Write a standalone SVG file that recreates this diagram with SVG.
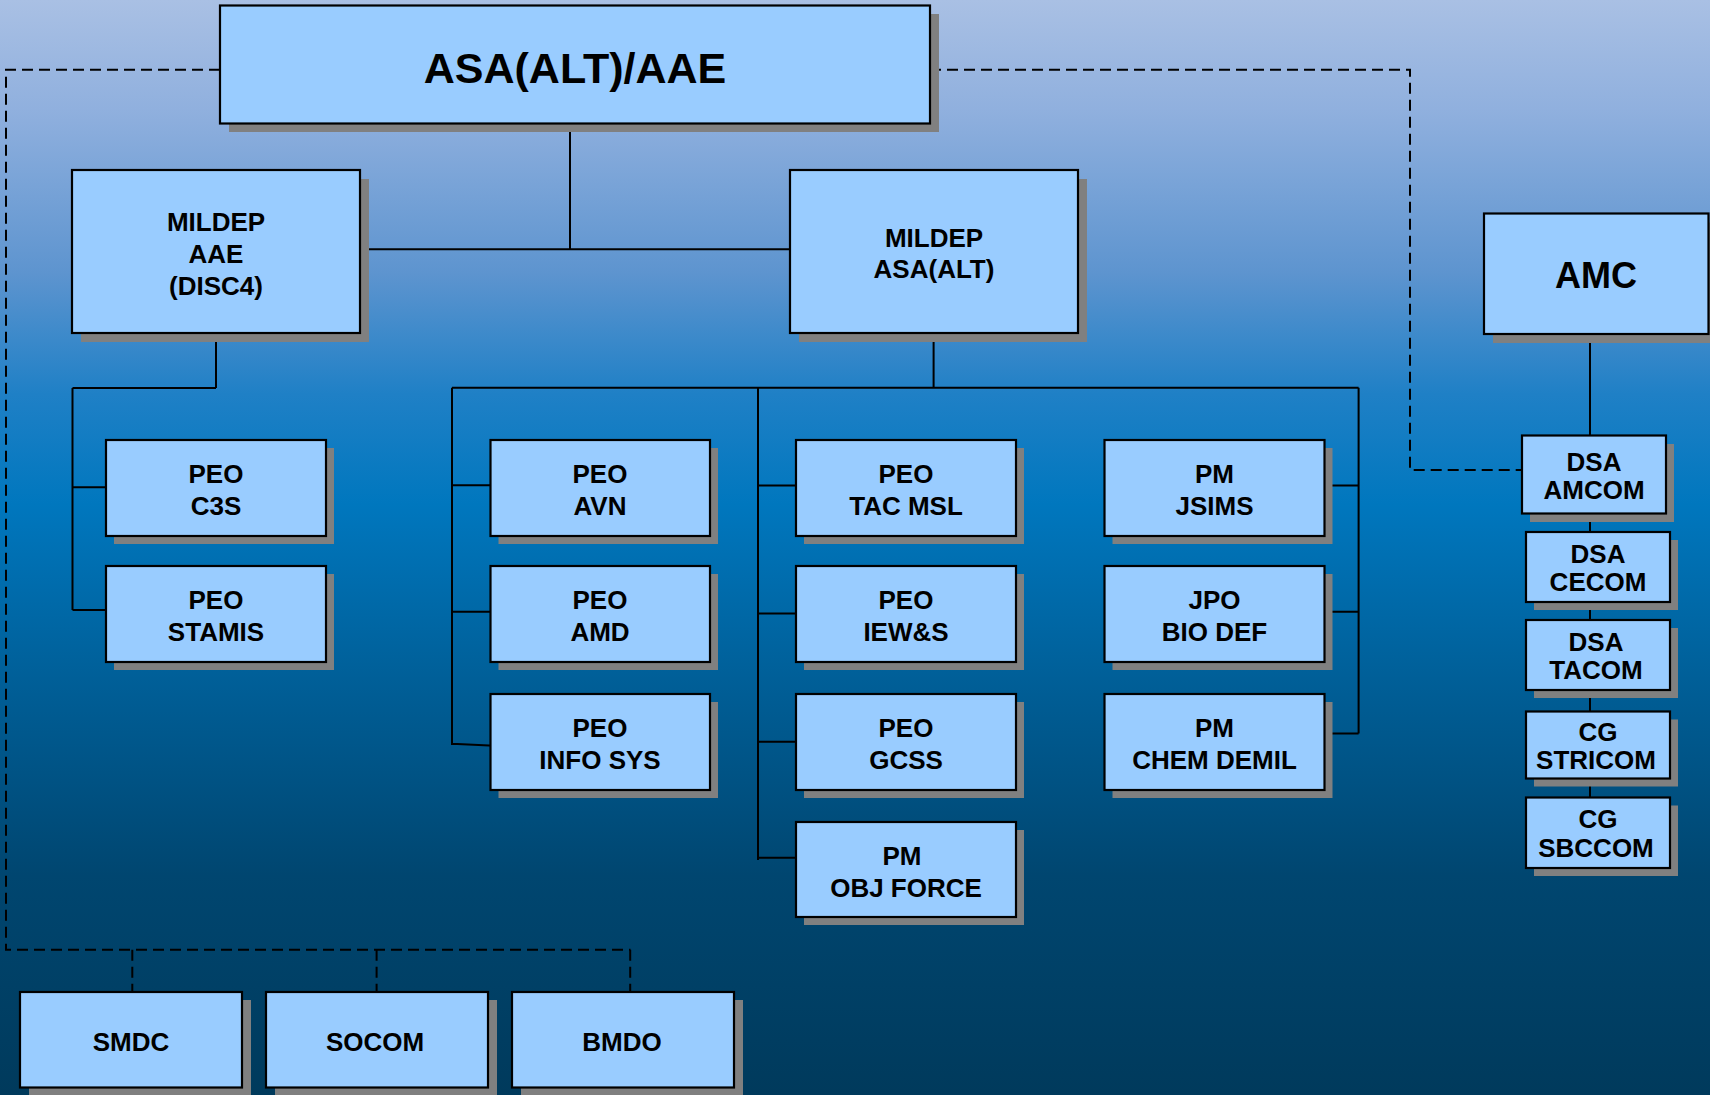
<svg xmlns="http://www.w3.org/2000/svg" width="1710" height="1095" viewBox="0 0 1710 1095">
<defs>
<linearGradient id="bg" x1="0" y1="0" x2="0" y2="1">
<stop offset="0" stop-color="#a9c0e4"/>
<stop offset="0.1" stop-color="#90b0de"/>
<stop offset="0.25" stop-color="#5d94cf"/>
<stop offset="0.36" stop-color="#1f80c6"/>
<stop offset="0.46" stop-color="#0077be"/>
<stop offset="0.62" stop-color="#005f98"/>
<stop offset="0.8" stop-color="#004670"/>
<stop offset="1" stop-color="#003a5c"/>
</linearGradient>
<style>
.sh{fill:#808080;stroke:none}
.bx{fill:#99ccff;stroke:#000;stroke-width:2.2}
.t{font-family:"Liberation Sans",Arial,Helvetica,sans-serif;font-weight:bold;font-size:26px;fill:#000;text-anchor:middle}
.sol{stroke:#000;stroke-width:2;fill:none}
.dash{stroke:#000;stroke-width:2;fill:none;stroke-dasharray:11 6}
</style>
</defs>
<rect x="0" y="0" width="1710" height="1095" fill="url(#bg)"/>
<g id="connectors">
<path class="dash" d="M220,69.7 H6 V949.7 H630.5"/>
<path class="dash" d="M132.3,949.7 V992 M376.6,949.7 V992 M630.2,949.7 V992"/>
<path class="dash" d="M930,69.7 H1410 V470 H1522"/>
<path class="sol" d="M570,124 V249.3 M360,249.3 H790"/>
<path class="sol" d="M216,333 V388 M72.5,388 H216 M72.5,388 V610 M72.5,487.3 H106 M72.5,610 H106"/>
<path class="sol" d="M933.6,333 V388 M452,387.7 H1358.6"/>
<path class="sol" d="M452,387.7 V745 M452,485.3 H490.5 M452,611.7 H490.5 M452,743.7 L494.4,745.7"/>
<path class="sol" d="M758,387.7 V860 M758,485.4 H796 M758,613.6 H796 M758,741.8 H796 M758,857.8 H796"/>
<path class="sol" d="M1358.6,387.7 V733.4 M1324.5,485.4 H1358.6 M1324.5,611.7 H1358.6 M1324.5,733.4 H1358.6"/>
<path class="sol" d="M1590,334 V797.5"/>
</g>
<g id="n-asa-aae"><rect class="sh" x="229" y="14" width="710" height="118"/><rect class="bx" x="220" y="5.5" width="710" height="118"/><text class="t" x="575" y="82.7" style="font-size:43px">ASA(ALT)/AAE</text></g>
<g id="n-mildep-aae"><rect class="sh" x="81" y="179" width="288" height="163"/><rect class="bx" x="72" y="170" width="288" height="163"/><text class="t" x="216" y="231">MILDEP</text><text class="t" x="216" y="262.7">AAE</text><text class="t" x="216" y="294.5">(DISC4)</text></g>
<g id="n-mildep-asa"><rect class="sh" x="799" y="179" width="288" height="163"/><rect class="bx" x="790" y="170" width="288" height="163"/><text class="t" x="934" y="246.7">MILDEP</text><text class="t" x="934" y="278.3">ASA(ALT)</text></g>
<g id="n-amc"><rect class="sh" x="1493" y="222.5" width="224.5" height="120.5"/><rect class="bx" x="1484" y="213.5" width="224.5" height="120.5"/><text class="t" x="1596" y="288.3" style="font-size:36px">AMC</text></g>
<g id="n-peo-c3s"><rect class="sh" x="114" y="448" width="220" height="96"/><rect class="bx" x="106" y="440" width="220" height="96"/><text class="t" x="216" y="483.3">PEO</text><text class="t" x="216" y="515">C3S</text></g>
<g id="n-peo-stamis"><rect class="sh" x="114" y="574" width="220" height="96"/><rect class="bx" x="106" y="566" width="220" height="96"/><text class="t" x="216" y="609.3">PEO</text><text class="t" x="216" y="641">STAMIS</text></g>
<g id="n-peo-avn"><rect class="sh" x="498.5" y="448" width="219.5" height="96"/><rect class="bx" x="490.5" y="440" width="219.5" height="96"/><text class="t" x="600" y="483.3">PEO</text><text class="t" x="600" y="515">AVN</text></g>
<g id="n-peo-amd"><rect class="sh" x="498.5" y="574" width="219.5" height="96"/><rect class="bx" x="490.5" y="566" width="219.5" height="96"/><text class="t" x="600" y="609.3">PEO</text><text class="t" x="600" y="641">AMD</text></g>
<g id="n-peo-infosys"><rect class="sh" x="498.5" y="702" width="219.5" height="96"/><rect class="bx" x="490.5" y="694" width="219.5" height="96"/><text class="t" x="600" y="737.3">PEO</text><text class="t" x="600" y="769">INFO SYS</text></g>
<g id="n-peo-tacmsl"><rect class="sh" x="804" y="448" width="220" height="96"/><rect class="bx" x="796" y="440" width="220" height="96"/><text class="t" x="906" y="483.3">PEO</text><text class="t" x="906" y="515">TAC MSL</text></g>
<g id="n-peo-iews"><rect class="sh" x="804" y="574" width="220" height="96"/><rect class="bx" x="796" y="566" width="220" height="96"/><text class="t" x="906" y="609.3">PEO</text><text class="t" x="906" y="641">IEW&amp;S</text></g>
<g id="n-peo-gcss"><rect class="sh" x="804" y="702" width="220" height="96"/><rect class="bx" x="796" y="694" width="220" height="96"/><text class="t" x="906" y="737.3">PEO</text><text class="t" x="906" y="769">GCSS</text></g>
<g id="n-pm-objforce"><rect class="sh" x="804" y="830" width="220" height="95"/><rect class="bx" x="796" y="822" width="220" height="95"/><text class="t" x="902" y="865.3">PM</text><text class="t" x="906" y="897">OBJ FORCE</text></g>
<g id="n-pm-jsims"><rect class="sh" x="1112.5" y="448" width="220" height="96"/><rect class="bx" x="1104.5" y="440" width="220" height="96"/><text class="t" x="1214.5" y="483.3">PM</text><text class="t" x="1214.5" y="515">JSIMS</text></g>
<g id="n-jpo-biodef"><rect class="sh" x="1112.5" y="574" width="220" height="96"/><rect class="bx" x="1104.5" y="566" width="220" height="96"/><text class="t" x="1214.5" y="609.3">JPO</text><text class="t" x="1214.5" y="641">BIO DEF</text></g>
<g id="n-pm-chemdemil"><rect class="sh" x="1112.5" y="702" width="220" height="96"/><rect class="bx" x="1104.5" y="694" width="220" height="96"/><text class="t" x="1214.5" y="737.3">PM</text><text class="t" x="1214.5" y="769">CHEM DEMIL</text></g>
<g id="n-dsa-amcom"><rect class="sh" x="1530" y="444" width="144" height="78"/><rect class="bx" x="1522" y="435.5" width="144" height="78"/><text class="t" x="1594" y="470.5">DSA</text><text class="t" x="1594" y="499">AMCOM</text></g>
<g id="n-dsa-cecom"><rect class="sh" x="1534" y="540" width="144" height="70"/><rect class="bx" x="1526" y="532" width="144" height="70"/><text class="t" x="1598" y="562.5">DSA</text><text class="t" x="1598" y="591">CECOM</text></g>
<g id="n-dsa-tacom"><rect class="sh" x="1534" y="628" width="144" height="70"/><rect class="bx" x="1526" y="620" width="144" height="70"/><text class="t" x="1596" y="650.5">DSA</text><text class="t" x="1596" y="679">TACOM</text></g>
<g id="n-cg-stricom"><rect class="sh" x="1534" y="719.5" width="144" height="67"/><rect class="bx" x="1526" y="711.5" width="144" height="67"/><text class="t" x="1598" y="740.5">CG</text><text class="t" x="1596" y="769">STRICOM</text></g>
<g id="n-cg-sbccom"><rect class="sh" x="1534" y="805.5" width="144" height="70.5"/><rect class="bx" x="1526" y="797.5" width="144" height="70.5"/><text class="t" x="1598" y="828">CG</text><text class="t" x="1596" y="856.5">SBCCOM</text></g>
<g id="n-smdc"><rect class="sh" x="29" y="1000" width="222" height="95.5"/><rect class="bx" x="20" y="992" width="222" height="95.5"/><text class="t" x="131" y="1050.7">SMDC</text></g>
<g id="n-socom"><rect class="sh" x="275" y="1000" width="222" height="95.5"/><rect class="bx" x="266" y="992" width="222" height="95.5"/><text class="t" x="375" y="1050.7">SOCOM</text></g>
<g id="n-bmdo"><rect class="sh" x="521" y="1000" width="222" height="95.5"/><rect class="bx" x="512" y="992" width="222" height="95.5"/><text class="t" x="622" y="1050.7">BMDO</text></g>
</svg>
